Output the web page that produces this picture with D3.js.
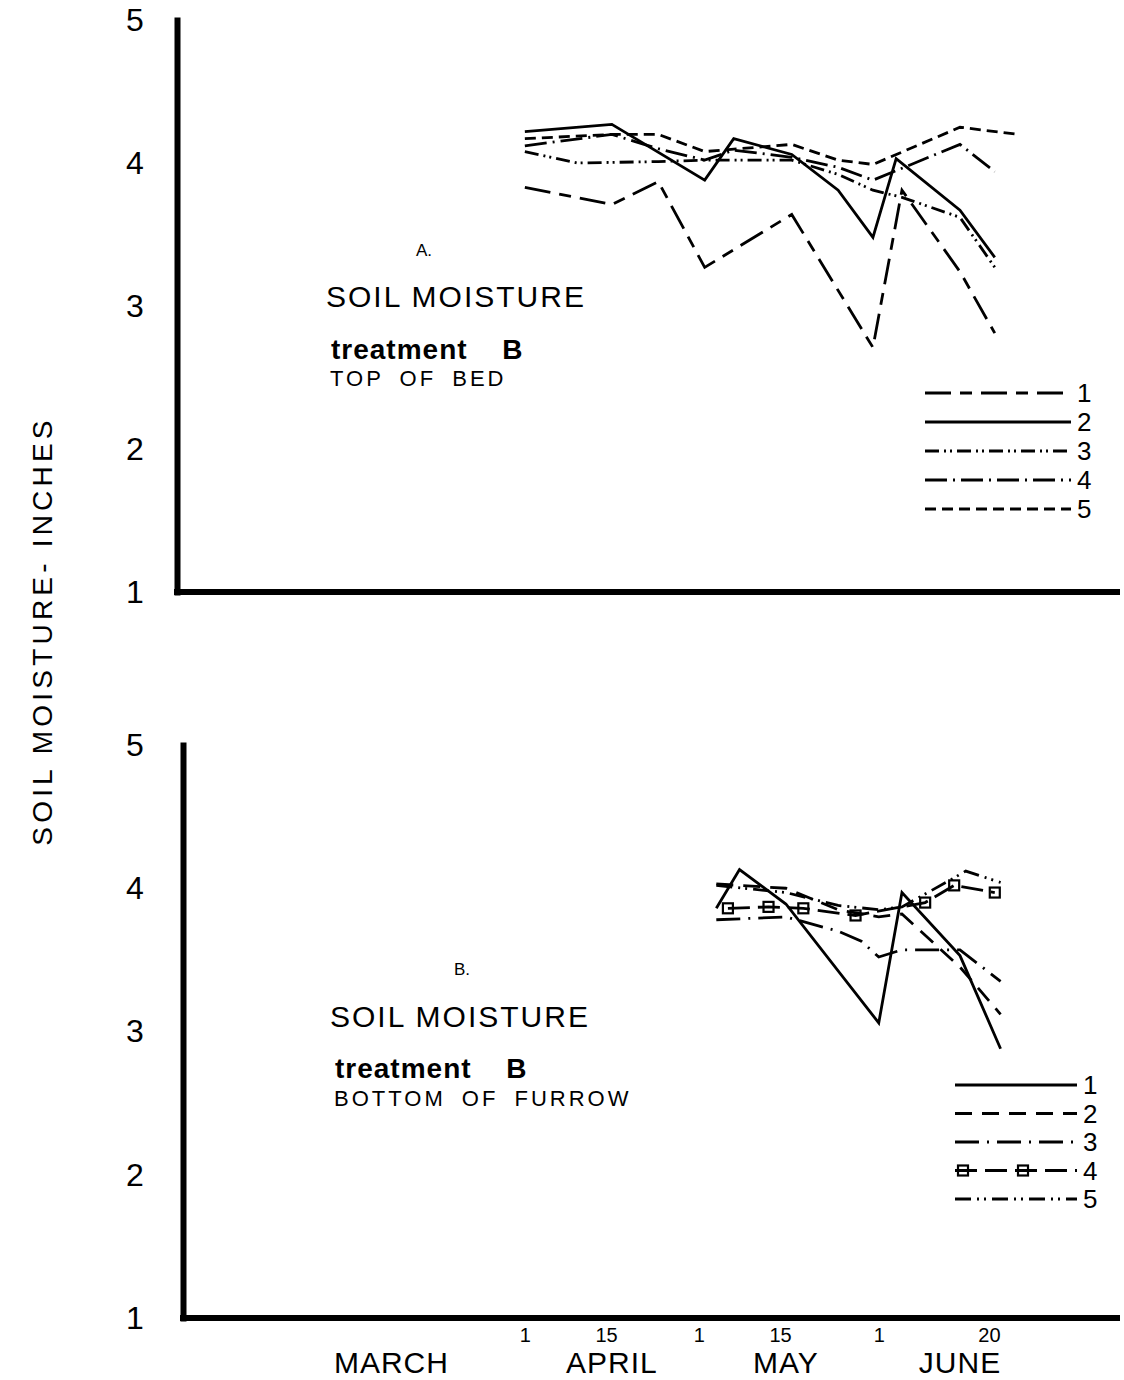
<!DOCTYPE html>
<html>
<head>
<meta charset="utf-8">
<script src="https://cdn.jsdelivr.net/npm/d3@7"></script>
<style>
  body { margin: 0; background: #fff; }
  svg text { font-family: "Liberation Sans", Arial, sans-serif; fill: #000; }
</style>
</head>
<body>
<svg id="chart" width="1124" height="1380"></svg>
<script>
// ---- Data: soil moisture (inches), treatment B ----
const yTicks = [1, 2, 3, 4, 5];
const xTickDates = ["04-01", "04-15", "05-01", "05-15", "06-01", "06-20"];
const monthNames = ["MARCH", "APRIL", "MAY", "JUNE"];
const monthLabelDates = ["03-09", "04-16", "05-16", "06-15"];
const seriesNames = ["1", "2", "3", "4", "5"];

// A. Top of bed
const topDates1 = ["04-01", "04-16", "04-24", "05-02", "05-17", "05-31", "06-05", "06-15", "06-21"];
const topValues1 = [3.83, 3.71, 3.87, 3.27, 3.64, 2.71, 3.81, 3.24, 2.81];
const topDates2 = ["04-01", "04-16", "05-02", "05-07", "05-17", "05-25", "05-31", "06-04", "06-15", "06-21"];
const topValues2 = [4.22, 4.27, 3.88, 4.17, 4.06, 3.81, 3.48, 4.03, 3.67, 3.34];
const topDates3 = ["04-01", "04-10", "04-24", "05-02", "05-17", "05-25", "05-31", "06-05", "06-15", "06-21"];
const topValues3 = [4.08, 4.00, 4.01, 4.02, 4.02, 3.92, 3.81, 3.76, 3.62, 3.27];
const topDates4 = ["04-01", "04-16", "04-24", "05-02", "05-07", "05-17", "05-25", "05-31", "06-15", "06-21"];
const topValues4 = [4.12, 4.20, 4.10, 4.02, 4.09, 4.04, 3.97, 3.88, 4.13, 3.94];
const topDates5 = ["04-01", "04-16", "04-24", "05-02", "05-17", "05-25", "05-31", "06-15", "06-25"];
const topValues5 = [4.17, 4.20, 4.20, 4.08, 4.13, 4.02, 3.99, 4.25, 4.20];

// B. Bottom of furrow
const botDates1 = ["05-04", "05-08", "05-16", "06-01", "06-05", "06-15", "06-22"];
const botValues1 = [3.86, 4.13, 3.89, 3.06, 3.97, 3.53, 2.88];
const botDates2 = ["05-04", "05-16", "05-25", "06-01", "06-05", "06-15", "06-22"];
const botValues2 = [4.03, 4.00, 3.85, 3.80, 3.82, 3.45, 3.12];
const botDates3 = ["05-04", "05-16", "05-25", "05-29", "06-01", "06-05", "06-15", "06-22"];
const botValues3 = [3.78, 3.80, 3.70, 3.63, 3.52, 3.57, 3.57, 3.35];
const botDates4 = ["05-06", "05-13", "05-19", "05-28", "06-09", "06-14", "06-21"];
const botValues4 = [3.86, 3.87, 3.86, 3.81, 3.90, 4.02, 3.97];
const botDates5 = ["05-04", "05-16", "05-25", "06-01", "06-05", "06-13", "06-16", "06-22"];
const botValues5 = [4.02, 3.97, 3.88, 3.85, 3.87, 4.05, 4.12, 4.04];

// ---- Drawing ----
const parseDay = d3.utcParse("%m-%d");
const svg = d3.select("#chart");

const x = d3.scaleUtc()
  .domain([parseDay("03-01"), parseDay("06-30")])
  .range([345, 1047]);

function zipSeries(dates, values) {
  return dates.map((d, i) => ({ date: parseDay(d), value: values[i] }));
}

const topSeries = [
  zipSeries(topDates1, topValues1),
  zipSeries(topDates2, topValues2),
  zipSeries(topDates3, topValues3),
  zipSeries(topDates4, topValues4),
  zipSeries(topDates5, topValues5)
];
const botSeries = [
  zipSeries(botDates1, botValues1),
  zipSeries(botDates2, botValues2),
  zipSeries(botDates3, botValues3),
  zipSeries(botDates4, botValues4),
  zipSeries(botDates5, botValues5)
];

// line patterns per panel
const topStyles = [
  { dash: "26,9,12,9" },
  { dash: null },
  { dash: "14,5,2,4,2,5" },
  { dash: "22,6,2,6" },
  { dash: "11,6" }
];
const botStyles = [
  { dash: null },
  { dash: "17,10" },
  { dash: "24,8,2,8" },
  { dash: "22,8", squares: true },
  { dash: "16,6,2,5,2,6" }
];

const panels = [
  {
    left: 177, top: 20, bottom: 592, series: topSeries, styles: topStyles,
    letter: "A.", letterPos: [416, 256],
    textLeft: 326, titleY: 307, treatY: 359, subY: 386, sub: "TOP OF BED",
    legendX: [925, 1071], legendY: 393, legendStep: 29, showDates: false
  },
  {
    left: 183, top: 745, bottom: 1318, series: botSeries, styles: botStyles,
    letter: "B.", letterPos: [454, 975],
    textLeft: 330, titleY: 1027, treatY: 1078, subY: 1106, sub: "BOTTOM OF FURROW",
    legendX: [955, 1077], legendY: 1085, legendStep: 28.5, showDates: true
  }
];

panels.forEach(p => {
  const y = d3.scaleLinear().domain([1, 5]).range([p.bottom, p.top]);
  const g = svg.append("g");

  // y axis
  const yAxis = g.append("g")
    .attr("transform", `translate(${p.left},0)`)
    .call(d3.axisLeft(y).tickValues(yTicks).tickSize(0).tickSizeOuter(0).tickFormat(d3.format("d")));
  yAxis.select(".domain").attr("stroke", "#000").attr("stroke-width", 6)
    .attr("stroke-linecap", "square");
  yAxis.selectAll(".tick text")
    .attr("x", 135 - p.left)
    .attr("text-anchor", "middle")
    .attr("font-size", 32)
    .attr("font-family", "Liberation Sans, Arial, sans-serif");

  // baseline
  g.append("line")
    .attr("x1", p.left - 3).attr("x2", 1120)
    .attr("y1", p.bottom).attr("y2", p.bottom)
    .attr("stroke", "#000").attr("stroke-width", 6);

  // date axis (only the lower panel carries labels)
  if (p.showDates) {
    const xAxis = g.append("g")
      .attr("transform", `translate(0,${p.bottom})`)
      .call(d3.axisBottom(x).tickValues(xTickDates.map(parseDay))
        .tickFormat(d3.utcFormat("%-d")).tickSize(0).tickPadding(10));
    xAxis.select(".domain").remove();
    xAxis.selectAll(".tick text")
      .attr("font-size", 20)
      .attr("font-family", "Liberation Sans, Arial, sans-serif");

    g.selectAll("text.month")
      .data(monthNames)
      .join("text")
      .attr("class", "month")
      .attr("x", (d, i) => x(parseDay(monthLabelDates[i])))
      .attr("y", p.bottom + 55)
      .attr("text-anchor", "middle")
      .attr("font-size", 30)
      .attr("letter-spacing", 1)
      .text(d => d);
  }

  // series lines
  const line = d3.line().x(d => x(d.date)).y(d => y(d.value));
  p.series.forEach((s, i) => {
    const st = p.styles[i];
    g.append("path")
      .datum(s)
      .attr("fill", "none")
      .attr("stroke", "#000")
      .attr("stroke-width", 2.8)
      .attr("stroke-linejoin", "miter")
      .attr("stroke-dasharray", st.dash)
      .attr("d", line);
    if (st.squares) {
      g.selectAll(null)
        .data(s)
        .join("rect")
        .attr("x", d => x(d.date) - 5)
        .attr("y", d => y(d.value) - 5)
        .attr("width", 10).attr("height", 10)
        .attr("fill", "none")
        .attr("stroke", "#000")
        .attr("stroke-width", 2.2);
    }
  });

  // panel annotation
  g.append("text")
    .attr("x", p.letterPos[0]).attr("y", p.letterPos[1])
    .attr("font-size", 17)
    .text(p.letter);
  g.append("text")
    .attr("x", p.textLeft).attr("y", p.titleY)
    .attr("font-size", 30).attr("letter-spacing", 2)
    .text("SOIL MOISTURE");
  g.append("text")
    .attr("x", p.textLeft + 5).attr("y", p.treatY)
    .attr("font-size", 28).attr("font-weight", "bold").attr("letter-spacing", 1)
    .attr("word-spacing", 26)
    .text("treatment B");
  g.append("text")
    .attr("x", p.textLeft + 4).attr("y", p.subY)
    .attr("font-size", 22).attr("letter-spacing", 3).attr("word-spacing", 7)
    .text(p.sub);

  // legend
  const leg = g.append("g");
  seriesNames.forEach((name, i) => {
    const ly = p.legendY + i * p.legendStep;
    const st = p.styles[i];
    leg.append("line")
      .attr("x1", p.legendX[0]).attr("x2", p.legendX[1])
      .attr("y1", ly).attr("y2", ly)
      .attr("stroke", "#000").attr("stroke-width", 2.8)
      .attr("stroke-dasharray", st.dash);
    if (st.squares) {
      [8, 68].forEach(off => {
        leg.append("rect")
          .attr("x", p.legendX[0] + off - 5).attr("y", ly - 5)
          .attr("width", 10).attr("height", 10)
          .attr("fill", "none").attr("stroke", "#000").attr("stroke-width", 2.2);
      });
    }
    leg.append("text")
      .attr("x", p.legendX[1] + 6).attr("y", ly + 9)
      .attr("font-size", 26)
      .text(name);
  });
});

// shared y-axis title
svg.append("text")
  .attr("transform", "translate(52,631) rotate(-90)")
  .attr("text-anchor", "middle")
  .attr("font-size", 28)
  .attr("letter-spacing", 4.2)
  .text("SOIL MOISTURE- INCHES");
</script>
</body>
</html>
